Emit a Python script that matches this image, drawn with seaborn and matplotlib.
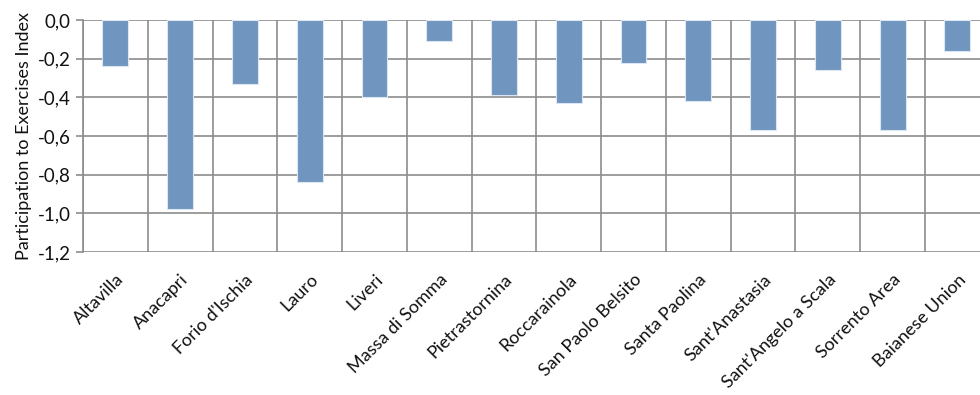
import numpy as np
import pandas as pd
import matplotlib
matplotlib.use("Agg")
import matplotlib.pyplot as plt
from matplotlib.ticker import FixedLocator, FuncFormatter
import seaborn as sns

municipalities = ["Altavilla", "Anacapri", "Forio d'Ischia", "Lauro", "Liveri",
                  "Massa di Somma", "Pietrastornina", "Roccarainola",
                  "San Paolo Belsito", "Santa Paolina", "Sant'Anastasia",
                  "Sant'Angelo a Scala", "Sorrento Area", "Baianese Union"]
index_values = [-0.24, -0.98, -0.33, -0.84, -0.40, -0.11, -0.39, -0.43,
                -0.22, -0.42, -0.57, -0.26, -0.57, -0.16]
y_ticks = [0.0, -0.2, -0.4, -0.6, -0.8, -1.0, -1.2]

df = pd.DataFrame({"Municipality": municipalities, "Index": index_values})

sns.set_theme(style="white")
plt.rcParams["font.family"] = ["Lato", "DejaVu Sans"]

grid_color = "#8C8C8C"
bar_color = "#7096C0"
text_color = "#111111"

fig = plt.figure(figsize=(9.8, 3.95), dpi=100)
ax = fig.add_axes([83 / 980, 1 - 252 / 395, 1 - 83 / 980, (252 - 20) / 395])

sns.barplot(data=df, x="Municipality", y="Index", color=bar_color,
            saturation=1, width=0.4, edgecolor="#DCE6F2", linewidth=0.8,
            ax=ax, zorder=3)

n = len(municipalities)
ax.set_xlim(-0.5, -0.5 + (980 - 83) / ((925 - 83) / 13))
ax.set_ylim(-1.2, 0.0)

ax.yaxis.set_major_locator(FixedLocator(y_ticks))
ax.yaxis.set_major_formatter(
    FuncFormatter(lambda v, _: f"{v:.1f}".replace(".", ",").replace("-0,0", "0,0")))
ax.xaxis.set_minor_locator(FixedLocator(np.arange(n + 1) - 0.5))

ax.grid(True, axis="y", which="major", color=grid_color, linewidth=1.2, zorder=0)
ax.grid(True, axis="x", which="minor", color=grid_color, linewidth=1.2, zorder=0)
ax.grid(False, axis="x", which="major")
ax.set_axisbelow(True)

for side in ["top", "right", "bottom"]:
    ax.spines[side].set_visible(False)
ax.spines["left"].set_color(grid_color)
ax.spines["left"].set_linewidth(1.2)

ax.tick_params(axis="y", which="major", length=5, width=1.2, color=grid_color,
               labelsize=13.5, pad=4, labelcolor=text_color, left=True)
ax.tick_params(axis="x", which="both", length=0, pad=14, labelsize=13,
               labelcolor=text_color)
plt.setp(ax.get_xticklabels(), rotation=45, ha="right", va="top",
         rotation_mode="anchor")

ax.set_xlabel("")
ax.set_ylabel("Participation to Exercises Index", fontsize=13,
              color=text_color, labelpad=4)

fig.savefig("out.png", dpi=100)
